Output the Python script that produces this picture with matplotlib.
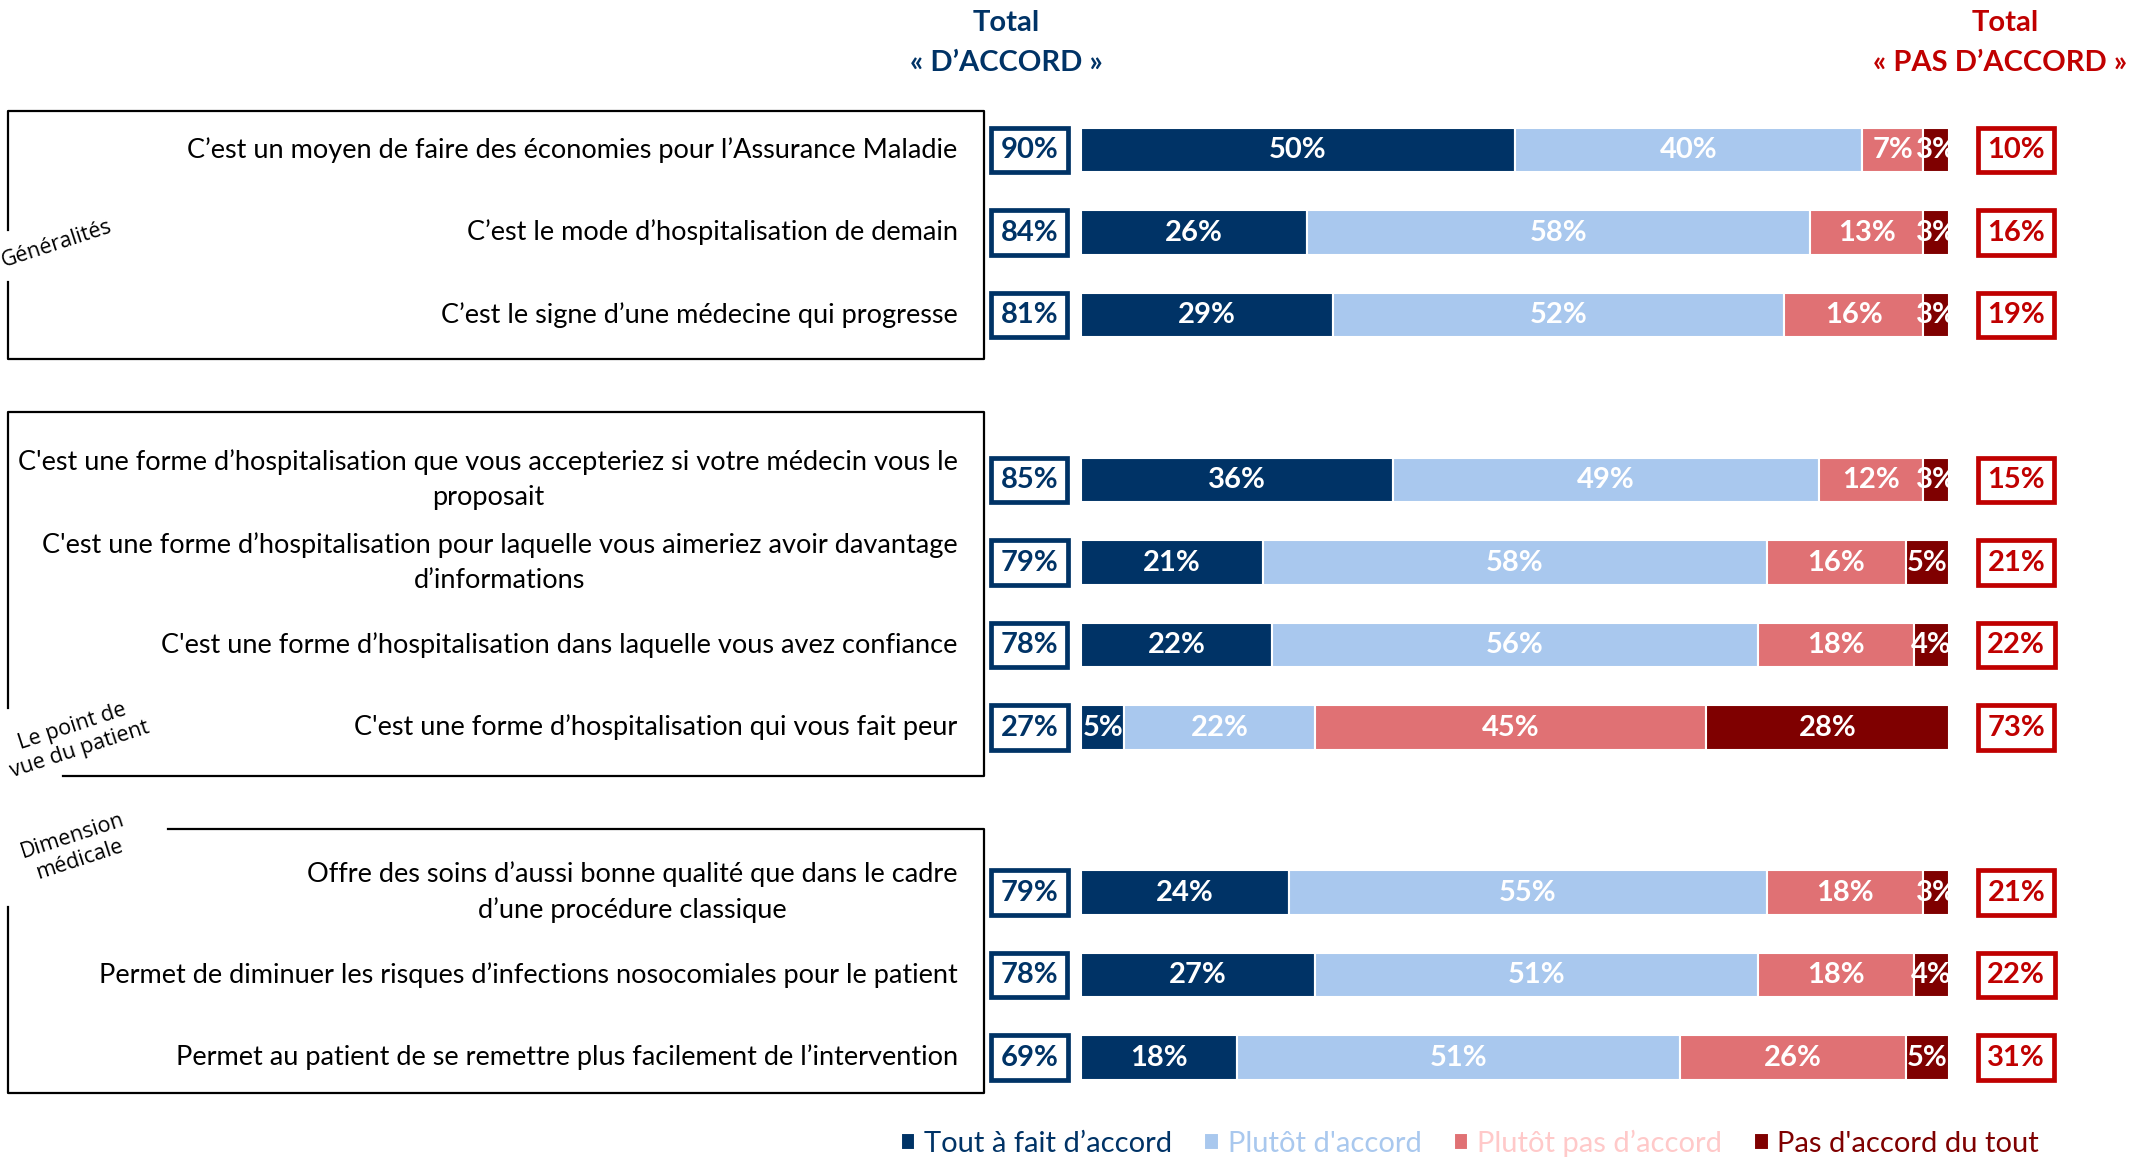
import matplotlib

matplotlib.use("Agg")
import matplotlib.pyplot as plt
import numpy as np

plt.rcParams["font.family"] = ["Lato", "DejaVu Sans"]

W, H = 2131, 1157

items = [
    "C’est un moyen de faire des économies pour l’Assurance Maladie",
    "C’est le mode d’hospitalisation de demain",
    "C’est le signe d’une médecine qui progresse",
    "C'est une forme d’hospitalisation que vous accepteriez si votre médecin vous le\nproposait",
    "C'est une forme d’hospitalisation pour laquelle vous aimeriez avoir davantage\nd’informations",
    "C'est une forme d’hospitalisation dans laquelle vous avez confiance",
    "C'est une forme d’hospitalisation qui vous fait peur",
    "Offre des soins d’aussi bonne qualité que dans le cadre\nd’une procédure classique",
    "Permet de diminuer les risques d’infections nosocomiales pour le patient",
    "Permet au patient de se remettre plus facilement de l’intervention",
]
row_pos = [0, 1, 2, 4, 5, 6, 7, 9, 10, 11]

tout_a_fait = [50, 26, 29, 36, 21, 22, 5, 24, 27, 18]
plutot = [40, 58, 52, 49, 58, 56, 22, 55, 51, 51]
plutot_pas = [7, 13, 16, 12, 16, 18, 45, 18, 18, 26]
pas_du_tout = [3, 3, 3, 3, 5, 4, 28, 3, 4, 5]
total_accord = [90, 84, 81, 85, 79, 78, 27, 79, 78, 69]
total_pas = [10, 16, 19, 15, 21, 22, 73, 21, 22, 31]

series_names = ["Tout à fait d’accord", "Plutôt d'accord", "Plutôt pas d’accord", "Pas d'accord du tout"]
series = [tout_a_fait, plutot, plutot_pas, pas_du_tout]
colors = ["#003366", "#A9C8EE", "#E07174", "#7F0000"]
legend_text_colors = ["#003366", "#A9C8EE", "#FFC9C9", "#7F0000"]

groups = ["Généralités", "Le point de\nvue du patient", "Dimension\nmédicale"]

blue = "#003366"
red = "#C00000"

fig = plt.figure(figsize=(W / 100, H / 100), dpi=100)

# overlay for the group frames, in pixel coordinates
bg = fig.add_axes([0, 0, 1, 1], zorder=0)
bg.set_xlim(0, W)
bg.set_ylim(H, 0)
bg.axis("off")
frame = dict(color="black", lw=1.6, solid_capstyle="projecting")
bg.plot([8, 8, 984, 984, 8, 8], [230, 111, 111, 359, 359, 282], **frame)
bg.plot([8, 8, 984, 984, 63], [708, 412, 412, 776, 776], **frame)
bg.plot([168, 984, 984, 8, 8], [829, 829, 1093, 1093, 907], **frame)

grp_style = dict(family="Open Sans", fontsize=15.5, rotation=18, ha="center",
                 va="center", linespacing=1.2)
bg.text(57, 244, groups[0], **grp_style)
bg.text(76, 738, groups[1], **grp_style)
bg.text(76, 848, groups[2], **grp_style)

# bar axes
x0, x1 = 1081, 1949
step = 82.5
ytop = 150 - step / 2
ybot = 150 + 11 * step + step / 2
ax = fig.add_axes([x0 / W, 1 - ybot / H, (x1 - x0) / W, (ybot - ytop) / H], zorder=2)
ax.set_xlim(0, 100)
ax.set_ylim(11.5, -0.5)
ax.axis("off")

left = np.zeros(len(items))
for name, vals, c in zip(series_names, series, colors):
    bars = ax.barh(row_pos, vals, left=left, height=0.535, color=c,
                   edgecolor="white", linewidth=1.5, label=name)
    ax.bar_label(bars, labels=[f"{v}%" for v in vals], label_type="center",
                 color="white", fontweight="bold", fontsize=21, clip_on=False)
    left += np.array(vals)

ytr = ax.get_yaxis_transform()
for y, lab, ta, tp in zip(row_pos, items, total_accord, total_pas):
    ax.text(-0.142, y, lab, transform=ytr, ha="right", va="center",
            multialignment="center", fontsize=19.5, linespacing=1.5)
    ax.text(-0.0595, y, f"{ta}%", transform=ytr, ha="center", va="center",
            color=blue, fontweight="bold", fontsize=21,
            bbox=dict(boxstyle="square,pad=0.32", fc="white", ec=blue, lw=3.4))
    ax.text(1.0775, y, f"{tp}%", transform=ytr, ha="center", va="center",
            color=red, fontweight="bold", fontsize=21,
            bbox=dict(boxstyle="square,pad=0.32", fc="white", ec=red, lw=3.4))

# column headers
hdr = dict(fontweight="bold", fontsize=21, ha="center", va="center")
fig.text(1006 / W, 1 - 23 / H, "Total", color=blue, **hdr)
fig.text(1006 / W, 1 - 63 / H, "« D’ACCORD »", color=blue, **hdr)
fig.text(2005 / W, 1 - 23 / H, "Total", color=red, **hdr)
fig.text(2000 / W, 1 - 63 / H, "« PAS D’ACCORD »", color=red, **hdr)

handles, labels = ax.get_legend_handles_labels()
fig.legend(handles, labels, loc="center", bbox_to_anchor=(1470 / W, 1 - 1143 / H),
           ncol=4, frameon=False, fontsize=21, handlelength=0.5, handleheight=0.5,
           handletextpad=0.3, columnspacing=1.1, labelcolor=legend_text_colors,
           borderaxespad=0, borderpad=0)

fig.savefig("out.png", dpi=100)
